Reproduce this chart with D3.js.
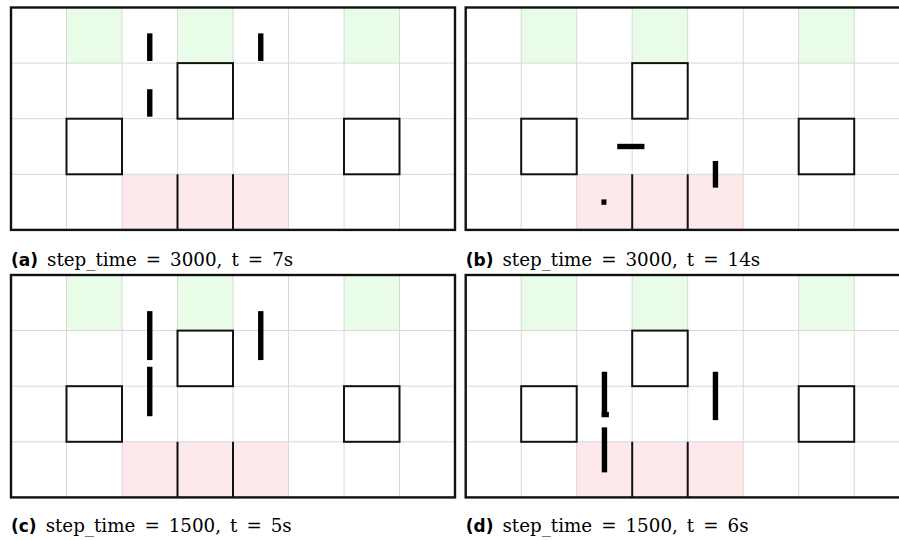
<!DOCTYPE html>
<html>
<head>
<meta charset="utf-8">
<script src="https://cdn.jsdelivr.net/npm/d3@7"></script>
<style>
  html, body { margin: 0; padding: 0; background: #fff; }
  svg { display: block; }
  .cap { font-family: "DejaVu Serif", serif; font-size: 18.3px; }
  .lab { font-family: "DejaVu Sans", sans-serif; font-weight: bold; font-size: 17px; }
</style>
</head>
<body>
<svg id="chart" width="899" height="540"></svg>
<script>
// ---- data ----
const nCols = 8;
const nRows = 4;
const panelLabels = ["(a)", "(b)", "(c)", "(d)"];
const panelCaptions = [
  "step_time = 3000, t = 7s",
  "step_time = 3000, t = 14s",
  "step_time = 1500, t = 5s",
  "step_time = 1500, t = 6s"
];
// goal cells [col, row]
const greenCells = [[1, 0], [3, 0], [6, 0]];
// start cells [col, row]
const redCells = [[2, 3], [3, 3], [4, 3]];
// obstacle cells [col, row]
const obstacles = [[3, 1], [1, 2], [6, 2]];
// walls [x1, y1, x2, y2] in grid units
const walls = [[3, 3, 3, 4], [4, 3, 4, 4]];
// agents per panel: segments [x1, y1, x2, y2] in grid units
const agentsA = [[2.5, 0.465, 2.5, 0.962], [4.5, 0.465, 4.5, 0.962], [2.5, 1.47, 2.5, 1.964]];
const agentsB = [[2.73, 2.5, 3.22, 2.5], [2.445, 3.5, 2.535, 3.5], [4.5, 2.76, 4.5, 3.24]];
const agentsC = [[2.5, 0.65, 2.5, 1.53], [2.5, 1.65, 2.5, 2.54], [4.5, 0.65, 4.5, 1.53]];
const agentsD = [[2.5, 1.74, 2.5, 2.55], [2.45, 2.51, 2.58, 2.51], [2.5, 2.74, 2.5, 3.55], [4.5, 1.74, 4.5, 2.61]];
const panelAgents = [agentsA, agentsB, agentsC, agentsD];

// ---- layout ----
const panelW = 444, panelH = 222.4;
const panelOrigins = [[11, 7.5], [465.7, 7.5], [11, 275], [465.7, 275]];
const captionY = [266, 266, 532, 532];

const svg = d3.select("#chart");

panelOrigins.forEach((o, i) => {
  const x = d3.scaleLinear().domain([0, nCols]).range([o[0], o[0] + panelW]);
  const y = d3.scaleLinear().domain([0, nRows]).range([o[1], o[1] + panelH]);
  const g = svg.append("g");

  g.selectAll("rect.green").data(greenCells).join("rect")
    .attr("x", d => x(d[0])).attr("y", d => y(d[1]))
    .attr("width", x(1) - x(0)).attr("height", y(1) - y(0))
    .attr("fill", "#e9fce8");
  g.selectAll("rect.red").data(redCells).join("rect")
    .attr("x", d => x(d[0])).attr("y", d => y(d[1]))
    .attr("width", x(1) - x(0)).attr("height", y(1) - y(0))
    .attr("fill", "#fde9e9");

  // grid lines
  g.selectAll("line.v").data(d3.range(1, nCols)).join("line")
    .attr("x1", d => x(d)).attr("x2", d => x(d))
    .attr("y1", y(0)).attr("y2", y(nRows))
    .attr("stroke", "#d8d8d8").attr("stroke-width", 1);
  g.selectAll("line.h").data(d3.range(1, nRows)).join("line")
    .attr("y1", d => y(d)).attr("y2", d => y(d))
    .attr("x1", x(0)).attr("x2", x(nCols))
    .attr("stroke", "#d8d8d8").attr("stroke-width", 1);

  // obstacles
  g.selectAll("rect.obs").data(obstacles).join("rect")
    .attr("x", d => x(d[0])).attr("y", d => y(d[1]))
    .attr("width", x(1) - x(0)).attr("height", y(1) - y(0))
    .attr("fill", "none").attr("stroke", "#111").attr("stroke-width", 2);

  // walls
  g.selectAll("line.wall").data(walls).join("line")
    .attr("x1", d => x(d[0])).attr("y1", d => y(d[1]))
    .attr("x2", d => x(d[2])).attr("y2", d => y(d[3]))
    .attr("stroke", "#111").attr("stroke-width", 2);

  // agents
  g.selectAll("line.agent").data(panelAgents[i]).join("line")
    .attr("x1", d => x(d[0])).attr("y1", d => y(d[1]))
    .attr("x2", d => x(d[2])).attr("y2", d => y(d[3]))
    .attr("stroke", "#000").attr("stroke-width", 5.4).attr("stroke-linecap", "butt");

  // border
  g.append("rect")
    .attr("x", x(0)).attr("y", y(0))
    .attr("width", panelW).attr("height", panelH)
    .attr("fill", "none").attr("stroke", "#111").attr("stroke-width", 2.4);

  // caption
  const t = svg.append("text")
    .attr("class", "cap")
    .attr("x", o[0]).attr("y", captionY[i]);
  t.append("tspan")
    .attr("class", "lab")
    .text(panelLabels[i]);
  panelCaptions[i].split(" ").forEach((w, k) => {
    t.append("tspan")
      .attr("class", "cap")
      .attr("dx", 9)
      .text(w);
  });
});
</script>
</body>
</html>
